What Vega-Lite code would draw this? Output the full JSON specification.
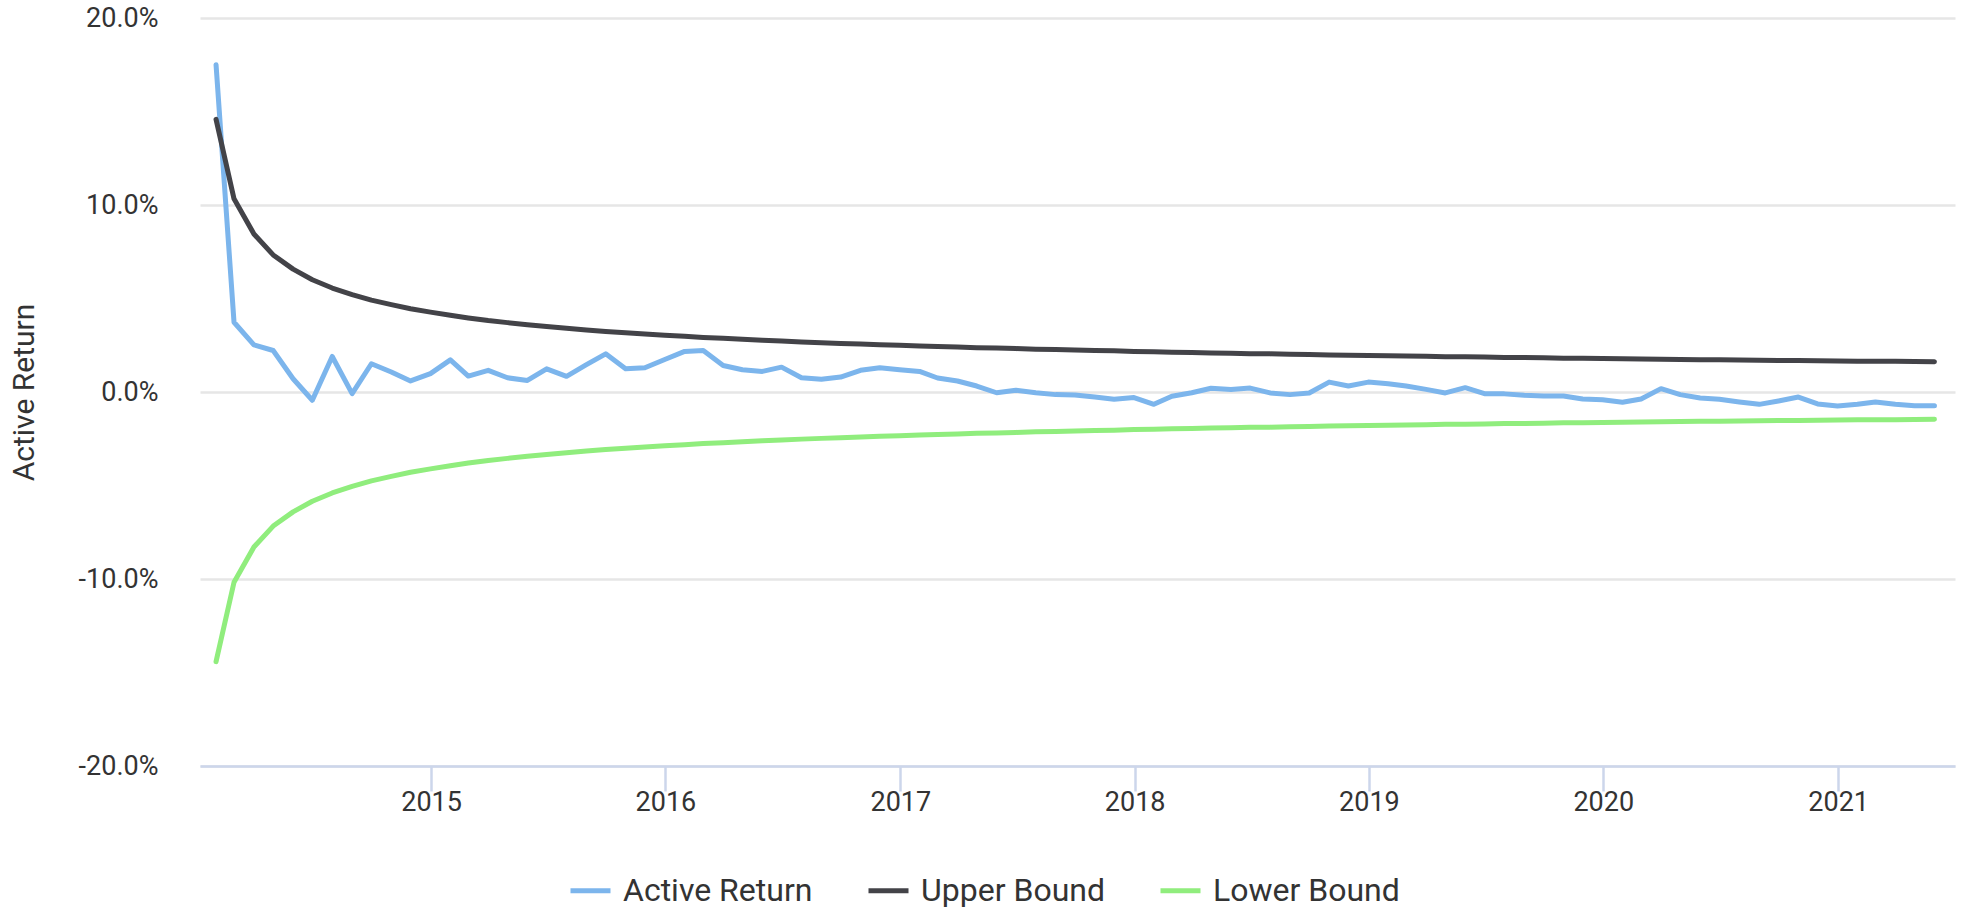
{
  "$schema": "https://vega.github.io/schema/vega-lite/v6.json",
  "width": 1755,
  "height": 748,
  "autosize": {"type": "none"},
  "padding": {"left": 200, "top": 18, "right": 10, "bottom": 145},
  "background": "white",
  "config": {"view": {"stroke": null}, "font": "Roboto"},
  "data": {"values": [
    {"date": "2014-01-31", "Active Return": 17.5, "Upper Bound": 14.58, "Lower Bound": -14.42},
    {"date": "2014-02-28", "Active Return": 3.73, "Upper Bound": 10.33, "Lower Bound": -10.17},
    {"date": "2014-03-31", "Active Return": 2.52, "Upper Bound": 8.45, "Lower Bound": -8.29},
    {"date": "2014-04-30", "Active Return": 2.22, "Upper Bound": 7.33, "Lower Bound": -7.17},
    {"date": "2014-05-31", "Active Return": 0.71, "Upper Bound": 6.57, "Lower Bound": -6.41},
    {"date": "2014-06-30", "Active Return": -0.44, "Upper Bound": 6.0, "Lower Bound": -5.84},
    {"date": "2014-07-31", "Active Return": 1.9, "Upper Bound": 5.56, "Lower Bound": -5.4},
    {"date": "2014-08-31", "Active Return": -0.09, "Upper Bound": 5.21, "Lower Bound": -5.05},
    {"date": "2014-09-30", "Active Return": 1.51, "Upper Bound": 4.91, "Lower Bound": -4.75},
    {"date": "2014-10-31", "Active Return": 1.07, "Upper Bound": 4.67, "Lower Bound": -4.51},
    {"date": "2014-11-30", "Active Return": 0.59, "Upper Bound": 4.45, "Lower Bound": -4.29},
    {"date": "2014-12-31", "Active Return": 0.98, "Upper Bound": 4.27, "Lower Bound": -4.11},
    {"date": "2015-01-31", "Active Return": 1.72, "Upper Bound": 4.1, "Lower Bound": -3.94},
    {"date": "2015-02-28", "Active Return": 0.85, "Upper Bound": 3.96, "Lower Bound": -3.8},
    {"date": "2015-03-31", "Active Return": 1.16, "Upper Bound": 3.82, "Lower Bound": -3.66},
    {"date": "2015-04-30", "Active Return": 0.76, "Upper Bound": 3.71, "Lower Bound": -3.55},
    {"date": "2015-05-31", "Active Return": 0.62, "Upper Bound": 3.6, "Lower Bound": -3.44},
    {"date": "2015-06-30", "Active Return": 1.24, "Upper Bound": 3.5, "Lower Bound": -3.34},
    {"date": "2015-07-31", "Active Return": 0.84, "Upper Bound": 3.41, "Lower Bound": -3.25},
    {"date": "2015-08-31", "Active Return": 1.46, "Upper Bound": 3.32, "Lower Bound": -3.16},
    {"date": "2015-09-30", "Active Return": 2.04, "Upper Bound": 3.24, "Lower Bound": -3.08},
    {"date": "2015-10-31", "Active Return": 1.24, "Upper Bound": 3.17, "Lower Bound": -3.01},
    {"date": "2015-11-30", "Active Return": 1.3, "Upper Bound": 3.1, "Lower Bound": -2.94},
    {"date": "2015-12-31", "Active Return": 1.74, "Upper Bound": 3.04, "Lower Bound": -2.88},
    {"date": "2016-01-31", "Active Return": 2.17, "Upper Bound": 2.98, "Lower Bound": -2.82},
    {"date": "2016-02-29", "Active Return": 2.22, "Upper Bound": 2.92, "Lower Bound": -2.76},
    {"date": "2016-03-31", "Active Return": 1.42, "Upper Bound": 2.87, "Lower Bound": -2.71},
    {"date": "2016-04-30", "Active Return": 1.19, "Upper Bound": 2.82, "Lower Bound": -2.66},
    {"date": "2016-05-31", "Active Return": 1.1, "Upper Bound": 2.77, "Lower Bound": -2.61},
    {"date": "2016-06-30", "Active Return": 1.33, "Upper Bound": 2.73, "Lower Bound": -2.57},
    {"date": "2016-07-31", "Active Return": 0.76, "Upper Bound": 2.68, "Lower Bound": -2.52},
    {"date": "2016-08-31", "Active Return": 0.68, "Upper Bound": 2.64, "Lower Bound": -2.48},
    {"date": "2016-09-30", "Active Return": 0.8, "Upper Bound": 2.6, "Lower Bound": -2.44},
    {"date": "2016-10-31", "Active Return": 1.16, "Upper Bound": 2.57, "Lower Bound": -2.41},
    {"date": "2016-11-30", "Active Return": 1.3, "Upper Bound": 2.53, "Lower Bound": -2.37},
    {"date": "2016-12-31", "Active Return": 1.19, "Upper Bound": 2.5, "Lower Bound": -2.34},
    {"date": "2017-01-31", "Active Return": 1.1, "Upper Bound": 2.46, "Lower Bound": -2.3},
    {"date": "2017-02-28", "Active Return": 0.75, "Upper Bound": 2.43, "Lower Bound": -2.27},
    {"date": "2017-03-31", "Active Return": 0.59, "Upper Bound": 2.4, "Lower Bound": -2.24},
    {"date": "2017-04-30", "Active Return": 0.32, "Upper Bound": 2.37, "Lower Bound": -2.21},
    {"date": "2017-05-31", "Active Return": -0.04, "Upper Bound": 2.35, "Lower Bound": -2.19},
    {"date": "2017-06-30", "Active Return": 0.09, "Upper Bound": 2.32, "Lower Bound": -2.16},
    {"date": "2017-07-31", "Active Return": -0.04, "Upper Bound": 2.29, "Lower Bound": -2.13},
    {"date": "2017-08-31", "Active Return": -0.14, "Upper Bound": 2.27, "Lower Bound": -2.11},
    {"date": "2017-09-30", "Active Return": -0.16, "Upper Bound": 2.24, "Lower Bound": -2.08},
    {"date": "2017-10-31", "Active Return": -0.27, "Upper Bound": 2.22, "Lower Bound": -2.06},
    {"date": "2017-11-30", "Active Return": -0.39, "Upper Bound": 2.2, "Lower Bound": -2.04},
    {"date": "2017-12-31", "Active Return": -0.3, "Upper Bound": 2.17, "Lower Bound": -2.01},
    {"date": "2018-01-31", "Active Return": -0.66, "Upper Bound": 2.15, "Lower Bound": -1.99},
    {"date": "2018-02-28", "Active Return": -0.23, "Upper Bound": 2.13, "Lower Bound": -1.97},
    {"date": "2018-03-31", "Active Return": -0.04, "Upper Bound": 2.11, "Lower Bound": -1.95},
    {"date": "2018-04-30", "Active Return": 0.2, "Upper Bound": 2.09, "Lower Bound": -1.93},
    {"date": "2018-05-31", "Active Return": 0.14, "Upper Bound": 2.07, "Lower Bound": -1.91},
    {"date": "2018-06-30", "Active Return": 0.21, "Upper Bound": 2.05, "Lower Bound": -1.89},
    {"date": "2018-07-31", "Active Return": -0.05, "Upper Bound": 2.04, "Lower Bound": -1.88},
    {"date": "2018-08-31", "Active Return": -0.14, "Upper Bound": 2.02, "Lower Bound": -1.86},
    {"date": "2018-09-30", "Active Return": -0.05, "Upper Bound": 2.0, "Lower Bound": -1.84},
    {"date": "2018-10-31", "Active Return": 0.53, "Upper Bound": 1.98, "Lower Bound": -1.82},
    {"date": "2018-11-30", "Active Return": 0.32, "Upper Bound": 1.97, "Lower Bound": -1.81},
    {"date": "2018-12-31", "Active Return": 0.53, "Upper Bound": 1.95, "Lower Bound": -1.79},
    {"date": "2019-01-31", "Active Return": 0.44, "Upper Bound": 1.94, "Lower Bound": -1.78},
    {"date": "2019-02-28", "Active Return": 0.32, "Upper Bound": 1.92, "Lower Bound": -1.76},
    {"date": "2019-03-31", "Active Return": 0.14, "Upper Bound": 1.91, "Lower Bound": -1.75},
    {"date": "2019-04-30", "Active Return": -0.05, "Upper Bound": 1.89, "Lower Bound": -1.73},
    {"date": "2019-05-31", "Active Return": 0.23, "Upper Bound": 1.88, "Lower Bound": -1.72},
    {"date": "2019-06-30", "Active Return": -0.09, "Upper Bound": 1.87, "Lower Bound": -1.71},
    {"date": "2019-07-31", "Active Return": -0.1, "Upper Bound": 1.85, "Lower Bound": -1.69},
    {"date": "2019-08-31", "Active Return": -0.18, "Upper Bound": 1.84, "Lower Bound": -1.68},
    {"date": "2019-09-30", "Active Return": -0.21, "Upper Bound": 1.83, "Lower Bound": -1.67},
    {"date": "2019-10-31", "Active Return": -0.21, "Upper Bound": 1.81, "Lower Bound": -1.65},
    {"date": "2019-11-30", "Active Return": -0.37, "Upper Bound": 1.8, "Lower Bound": -1.64},
    {"date": "2019-12-31", "Active Return": -0.41, "Upper Bound": 1.79, "Lower Bound": -1.63},
    {"date": "2020-01-31", "Active Return": -0.55, "Upper Bound": 1.78, "Lower Bound": -1.62},
    {"date": "2020-02-29", "Active Return": -0.37, "Upper Bound": 1.77, "Lower Bound": -1.61},
    {"date": "2020-03-31", "Active Return": 0.18, "Upper Bound": 1.75, "Lower Bound": -1.59},
    {"date": "2020-04-30", "Active Return": -0.14, "Upper Bound": 1.74, "Lower Bound": -1.58},
    {"date": "2020-05-31", "Active Return": -0.32, "Upper Bound": 1.73, "Lower Bound": -1.57},
    {"date": "2020-06-30", "Active Return": -0.39, "Upper Bound": 1.72, "Lower Bound": -1.56},
    {"date": "2020-07-31", "Active Return": -0.53, "Upper Bound": 1.71, "Lower Bound": -1.55},
    {"date": "2020-08-31", "Active Return": -0.66, "Upper Bound": 1.7, "Lower Bound": -1.54},
    {"date": "2020-09-30", "Active Return": -0.48, "Upper Bound": 1.69, "Lower Bound": -1.53},
    {"date": "2020-10-31", "Active Return": -0.27, "Upper Bound": 1.68, "Lower Bound": -1.52},
    {"date": "2020-11-30", "Active Return": -0.64, "Upper Bound": 1.67, "Lower Bound": -1.51},
    {"date": "2020-12-31", "Active Return": -0.75, "Upper Bound": 1.66, "Lower Bound": -1.5},
    {"date": "2021-01-31", "Active Return": -0.66, "Upper Bound": 1.65, "Lower Bound": -1.49},
    {"date": "2021-02-28", "Active Return": -0.53, "Upper Bound": 1.64, "Lower Bound": -1.48},
    {"date": "2021-03-31", "Active Return": -0.66, "Upper Bound": 1.64, "Lower Bound": -1.48},
    {"date": "2021-04-30", "Active Return": -0.73, "Upper Bound": 1.63, "Lower Bound": -1.47},
    {"date": "2021-05-31", "Active Return": -0.73, "Upper Bound": 1.62, "Lower Bound": -1.46}
  ]},
  "transform": [
    {"fold": ["Active Return", "Upper Bound", "Lower Bound"], "as": ["series", "value"]}
  ],
  "mark": {"type": "line", "strokeWidth": 5, "strokeCap": "round", "strokeJoin": "round"},
  "encoding": {
    "x": {
      "field": "date",
      "type": "temporal",
      "scale": {
        "type": "utc",
        "domain": [
          {"year": 2014, "month": 1, "date": 6, "utc": true},
          {"year": 2021, "month": 7, "date": 2, "utc": true}
        ]
      },
      "axis": {
        "title": null,
        "format": "%Y",
        "formatType": "utc",
        "tickCount": "year",
        "grid": false,
        "domainColor": "#ccd6eb",
        "domainWidth": 2.5,
        "tickColor": "#ccd6eb",
        "tickWidth": 2.5,
        "tickSize": 25,
        "labelFont": "Roboto",
        "labelFontSize": 27,
        "labelColor": "#333333",
        "labelPadding": -2
      }
    },
    "y": {
      "field": "value",
      "type": "quantitative",
      "scale": {"domain": [-20, 20], "nice": false, "zero": false},
      "axis": {
        "values": [-20, -10, 0, 10, 20],
        "labelExpr": "(datum.value < 0 ? '-' : '') + format(abs(datum.value), '.1f') + '%'",
        "grid": true,
        "gridColor": "#e6e6e6",
        "gridWidth": 2.5,
        "domain": false,
        "ticks": false,
        "tickSize": 0,
        "labelPadding": 42,
        "labelFont": "Roboto",
        "labelFontSize": 27,
        "labelColor": "#333333",
        "title": "Active Return",
        "titleFont": "Roboto",
        "titleFontSize": 30,
        "titleFontWeight": "normal",
        "titleColor": "#333333",
        "titlePadding": 39
      }
    },
    "color": {
      "field": "series",
      "type": "nominal",
      "sort": ["Active Return", "Upper Bound", "Lower Bound"],
      "scale": {
        "domain": ["Active Return", "Upper Bound", "Lower Bound"],
        "range": ["#7cb5ec", "#434348", "#90ed7d"]
      },
      "legend": {
        "title": null,
        "orient": "none",
        "direction": "horizontal",
        "legendX": 368,
        "legendY": 850,
        "padding": 0,
        "symbolType": "stroke",
        "symbolSize": 1600,
        "symbolStrokeWidth": 5,
        "labelFont": "Roboto",
        "labelFontSize": 32,
        "labelColor": "#333333",
        "labelOffset": 10,
        "labelLimit": 500,
        "columnPadding": 45
      }
    }
  }
}
